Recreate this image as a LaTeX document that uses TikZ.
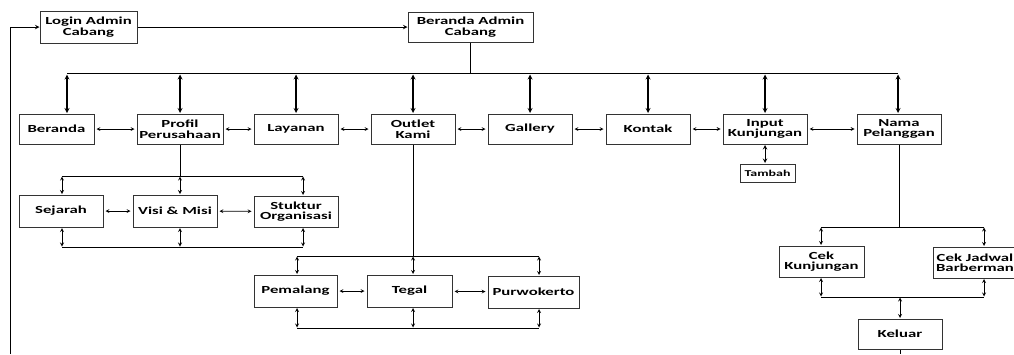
\documentclass[tikz,border=0pt]{standalone}
\usepackage{fontspec}
\setmainfont{Carlito}[FakeStretch=1.55]

\begin{document}
\begin{tikzpicture}[x=1pt,y=-1pt,>=stealth,thick,
    menu node/.style={draw=black!80,line width=1pt,fill=white,align=center,inner sep=1pt,minimum width=84pt,minimum height=30pt,font=\bfseries\fontsize{10.8}{10.5}\selectfont},
    big link/.style={<->,line width=1.2pt,shorten <=1.5pt,shorten >=0.5pt},
    link/.style={<->,line width=0.7pt,shorten <=2pt,shorten >=2pt},
    sub link/.style={<->,line width=0.8pt,shorten <=0.5pt,shorten >=0.5pt}]
                \clip (0,0) rectangle (1014,354);

                % login dan beranda admin
                \node[menu node,minimum width=97pt,minimum height=32pt] (login) at (88.5,27) {Login Admin\\Cabang};
                \node[menu node,minimum width=125pt] (badmin) at (470.5,27) {Beranda Admin\\Cabang};

                % menu utama
                \node[menu node,minimum width=75pt] (beranda) at (56.5,129) {Beranda};
                \node[menu node,minimum width=86pt] (profil) at (180,129) {Profil\\Perusahaan};
                \node[menu node] (layanan) at (296,129) {Layanan};
                \node[menu node] (outlet) at (413,129) {Outlet\\Kami};
                \node[menu node] (gallery) at (530,129) {Gallery};
                \node[menu node] (kontak) at (648,129) {Kontak};
                \node[menu node] (input) at (765,129) {Input\\Kunjungan};
                \node[menu node] (nama) at (899,129) {Nama\\Pelanggan};
                \node[menu node,minimum width=55pt,minimum height=18pt,font=\bfseries\fontsize{9}{9}\selectfont] (tambah) at (767.5,173) {Tambah};

                % sub menu profil
                \node[menu node,minimum height=32pt] (sejarah) at (61,211) {Sejarah};
                \node[menu node,minimum height=32pt] (visi) at (175,211) {Visi \& Misi};
                \node[menu node,minimum height=31pt] (stuktur) at (296,211.5) {Stuktur\\Organisasi};

                % sub menu outlet
                \node[menu node,minimum width=83pt,minimum height=32pt] (pemalang) at (295.5,291) {Pemalang};
                \node[menu node,minimum width=85pt,minimum height=32pt] (tegal) at (409.5,291) {Tegal};
                \node[menu node,minimum width=91pt,minimum height=32pt] (purwokerto) at (533.5,292) {Purwokerto};

                % sub menu pelanggan
                \node[menu node,minimum width=85pt,minimum height=31pt] (cek) at (821.5,261.5) {Cek\\Kunjungan};
                \node[menu node,minimum height=31pt] (jadwal) at (975,262.5) {Cek Jadwal\\Barberman};
                \node[menu node] (keluar) at (900,334) {Keluar};

                \coordinate (back) at (10,354);
                \coordinate (end) at (900,354);
                \coordinate (bus1) at (67,73);
                \coordinate (bus2) at (898,73);
                \coordinate (p1) at (62,176);
                \coordinate (p2) at (303,176);
                \coordinate (q1) at (62,247);
                \coordinate (q2) at (303,247);
                \coordinate (o1) at (297,256);
                \coordinate (o2) at (539,256);
                \coordinate (r1) at (297,328);
                \coordinate (r2) at (539,328);
                \coordinate (n1) at (821,227);
                \coordinate (n2) at (984,227);
                \coordinate (m1) at (821,297);
                \coordinate (m2) at (984,297);

                \draw[->,line width=1pt] (back) |- (login.west);
                \draw[->,line width=1pt] (login) -- (badmin);
                \draw[line width=1pt] (badmin) -- (badmin |- bus1);
                \draw[line width=1pt] (bus1) -- (bus2);
                \draw[line width=1pt] (keluar) -- (end);

                \path[big link]
                    (bus1) edge (bus1 |- beranda.north)
                    (profil.north |- bus1) edge (profil.north)
                    (layanan.north |- bus1) edge (layanan.north)
                    (outlet.north |- bus1) edge (outlet.north)
                    (gallery.north |- bus1) edge (gallery.north)
                    (kontak.north |- bus1) edge (kontak.north)
                    (input.north |- bus1) edge (input.north)
                    (bus2) edge (bus2 |- nama.north)
                    ;

                \path[link]
                    (beranda) edge (profil)
                    (profil) edge (layanan)
                    (layanan) edge (outlet)
                    (outlet) edge (gallery)
                    (gallery) edge (kontak)
                    (kontak) edge (input)
                    (input) edge (nama)
                    (sejarah) edge (visi)
                    (visi) edge (stuktur)
                    (pemalang) edge (tegal)
                    (tegal) edge (purwokerto)
                    ;
                \path[sub link,line width=1pt] (input.south) edge (input.south |- tambah.north);

                % cabang profil
                \draw (profil) -- (profil |- p1);
                \draw (p1) -- (p2);
                \draw (q1) -- (q2);
                \path[sub link]
                    (p1) edge (p1 |- sejarah.north)
                    (profil |- p1) edge (profil |- visi.north)
                    (p2) edge (p2 |- stuktur.north)
                    (q1) edge (q1 |- sejarah.south)
                    (profil |- q1) edge (profil |- visi.south)
                    (q2) edge (q2 |- stuktur.south)
                    ;

                % cabang outlet
                \draw (outlet) -- (outlet |- o1);
                \draw (o1) -- (o2);
                \draw (r1) -- (r2);
                \path[sub link]
                    (o1) edge (o1 |- pemalang.north)
                    (outlet |- o1) edge (outlet |- tegal.north)
                    (o2) edge (o2 |- purwokerto.north)
                    (r1) edge (r1 |- pemalang.south)
                    (outlet |- r1) edge (outlet |- tegal.south)
                    (r2) edge (r2 |- purwokerto.south)
                    ;

                % cabang pelanggan
                \draw (nama) -- (nama |- n1);
                \draw (n1) -- (n2);
                \draw (m1) -- (m2);
                \path[sub link]
                    (n1) edge (n1 |- cek.north)
                    (n2) edge (n2 |- jadwal.north)
                    (m1) edge (m1 |- cek.south)
                    (m2) edge (m2 |- jadwal.south)
                    (keluar.north |- m1) edge (keluar.north)
                    ;
            \end{tikzpicture}
\end{document}
